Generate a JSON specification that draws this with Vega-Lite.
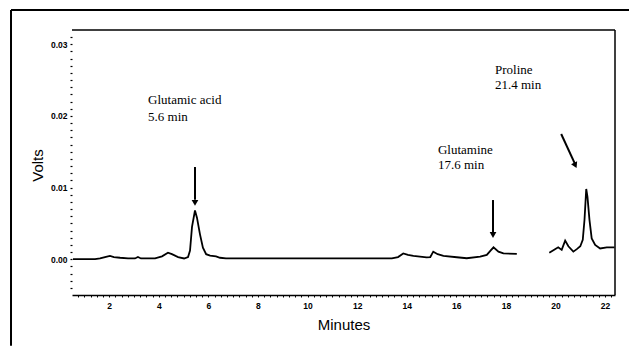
{
  "$schema": "https://vega.github.io/schema/vega-lite/v6.json",
  "width": 543,
  "height": 265,
  "autosize": {"type": "none"},
  "padding": {"left": 72, "top": 30, "right": 14, "bottom": 51},
  "background": "white",
  "config": {"view": {"stroke": null}},
  "datasets": {
    "trace": [
      {"min": 0.54, "volts": 0.0, "seg": "a"},
      {"min": 1.43, "volts": 0.0, "seg": "a"},
      {"min": 1.63, "volts": 0.0001, "seg": "a"},
      {"min": 1.83, "volts": 0.0003, "seg": "a"},
      {"min": 2.03, "volts": 0.00045, "seg": "a"},
      {"min": 2.19, "volts": 0.0003, "seg": "a"},
      {"min": 2.44, "volts": 0.0002, "seg": "a"},
      {"min": 2.76, "volts": 0.0001, "seg": "a"},
      {"min": 3.04, "volts": 0.0001, "seg": "a"},
      {"min": 3.16, "volts": 0.0003, "seg": "a"},
      {"min": 3.28, "volts": 0.0001, "seg": "a"},
      {"min": 3.85, "volts": 0.0001, "seg": "a"},
      {"min": 4.13, "volts": 0.0004, "seg": "a"},
      {"min": 4.37, "volts": 0.0009, "seg": "a"},
      {"min": 4.53, "volts": 0.0007, "seg": "a"},
      {"min": 4.78, "volts": 0.0003, "seg": "a"},
      {"min": 5.02, "volts": 0.0001, "seg": "a"},
      {"min": 5.18, "volts": 0.0003, "seg": "a"},
      {"min": 5.26, "volts": 0.0012, "seg": "a"},
      {"min": 5.34, "volts": 0.0045, "seg": "a"},
      {"min": 5.46, "volts": 0.0068, "seg": "a"},
      {"min": 5.54, "volts": 0.0058, "seg": "a"},
      {"min": 5.66, "volts": 0.0035, "seg": "a"},
      {"min": 5.78, "volts": 0.0016, "seg": "a"},
      {"min": 5.91, "volts": 0.0007, "seg": "a"},
      {"min": 6.07, "volts": 0.0005, "seg": "a"},
      {"min": 6.31, "volts": 0.0004, "seg": "a"},
      {"min": 6.47, "volts": 0.0002, "seg": "a"},
      {"min": 6.71, "volts": 0.0001, "seg": "a"},
      {"min": 10.0, "volts": 0.0001, "seg": "a"},
      {"min": 13.4, "volts": 0.0001, "seg": "a"},
      {"min": 13.65, "volts": 0.0003, "seg": "a"},
      {"min": 13.86, "volts": 0.0008, "seg": "a"},
      {"min": 14.05, "volts": 0.0006, "seg": "a"},
      {"min": 14.27, "volts": 0.00045, "seg": "a"},
      {"min": 14.8, "volts": 0.00026, "seg": "a"},
      {"min": 14.95, "volts": 0.0003, "seg": "a"},
      {"min": 15.07, "volts": 0.00105, "seg": "a"},
      {"min": 15.25, "volts": 0.0007, "seg": "a"},
      {"min": 15.48, "volts": 0.00045, "seg": "a"},
      {"min": 16.02, "volts": 0.00027, "seg": "a"},
      {"min": 16.42, "volts": 0.00013, "seg": "a"},
      {"min": 16.96, "volts": 0.00035, "seg": "a"},
      {"min": 17.23, "volts": 0.0006, "seg": "a"},
      {"min": 17.38, "volts": 0.0012, "seg": "a"},
      {"min": 17.5, "volts": 0.00166, "seg": "a"},
      {"min": 17.7, "volts": 0.00105, "seg": "a"},
      {"min": 17.9, "volts": 0.0008, "seg": "a"},
      {"min": 18.44, "volts": 0.00073, "seg": "a"},
      {"min": 19.75, "volts": 0.0009, "seg": "b"},
      {"min": 19.98, "volts": 0.0014, "seg": "b"},
      {"min": 20.11, "volts": 0.00166, "seg": "b"},
      {"min": 20.25, "volts": 0.0013, "seg": "b"},
      {"min": 20.39, "volts": 0.0026, "seg": "b"},
      {"min": 20.52, "volts": 0.0018, "seg": "b"},
      {"min": 20.72, "volts": 0.00105, "seg": "b"},
      {"min": 20.86, "volts": 0.0014, "seg": "b"},
      {"min": 21.0, "volts": 0.0018, "seg": "b"},
      {"min": 21.1, "volts": 0.0027, "seg": "b"},
      {"min": 21.17, "volts": 0.0055, "seg": "b"},
      {"min": 21.24, "volts": 0.0098, "seg": "b"},
      {"min": 21.29, "volts": 0.0087, "seg": "b"},
      {"min": 21.37, "volts": 0.0055, "seg": "b"},
      {"min": 21.46, "volts": 0.0029, "seg": "b"},
      {"min": 21.6, "volts": 0.002, "seg": "b"},
      {"min": 21.8, "volts": 0.0015, "seg": "b"},
      {"min": 22.07, "volts": 0.00166, "seg": "b"},
      {"min": 22.38, "volts": 0.00166, "seg": "b"}
    ],
    "labels": [
      {"min": 3.57, "volts": 0.0222, "text": "Glutamic acid"},
      {"min": 3.57, "volts": 0.01985, "text": "5.6 min"},
      {"min": 15.26, "volts": 0.01525, "text": "Glutamine"},
      {"min": 15.26, "volts": 0.01316, "text": "17.6 min"},
      {"min": 17.56, "volts": 0.02643, "text": "Proline"},
      {"min": 17.56, "volts": 0.02433, "text": "21.4 min"}
    ],
    "arrows": [
      {"min": 5.46, "volts": 0.01287, "min2": 5.46, "volts2": 0.0083},
      {"min": 17.48, "volts": 0.00826, "min2": 17.48, "volts2": 0.0034},
      {"min": 20.23, "volts": 0.01748, "min2": 20.8, "volts2": 0.0132}
    ],
    "heads": [
      {"min": 5.46, "volts": 0.00785},
      {"min": 17.48, "volts": 0.00338}
    ],
    "headsAngled": [
      {"min": 20.8, "volts": 0.0131}
    ],
    "box": [
      {"min": 0.5, "volts": 0.032, "min2": 22.4, "volts2": 0.032},
      {"min": 22.4, "volts": 0.032, "min2": 22.4, "volts2": -0.005}
    ],
    "frame": [
      {"min": -1.96, "volts": 0.0348, "min2": 22.97, "volts2": 0.0348},
      {"min": -1.96, "volts": 0.0348, "min2": -1.96, "volts2": -0.0121}
    ]
  },
  "layer": [
    {
      "data": {"name": "trace"},
      "mark": {"type": "line", "color": "black", "strokeWidth": 1.8, "clip": true},
      "encoding": {
        "x": {
          "field": "min", "type": "quantitative",
          "scale": {"domain": [0.5, 22.4], "nice": false, "zero": false},
          "axis": {
            "title": "Minutes",
            "titleFont": "Liberation Sans", "titleFontSize": 15, "titleFontWeight": "normal", "titleColor": "black",
            "titlePadding": 8,
            "tickCount": 500,
            "values": [0.75,1,1.25,1.5,1.75,2,2.25,2.5,2.75,3,3.25,3.5,3.75,4,4.25,4.5,4.75,5,5.25,5.5,5.75,6,6.25,6.5,6.75,7,7.25,7.5,7.75,8,8.25,8.5,8.75,9,9.25,9.5,9.75,10,10.25,10.5,10.75,11,11.25,11.5,11.75,12,12.25,12.5,12.75,13,13.25,13.5,13.75,14,14.25,14.5,14.75,15,15.25,15.5,15.75,16,16.25,16.5,16.75,17,17.25,17.5,17.75,18,18.25,18.5,18.75,19,19.25,19.5,19.75,20,20.25,20.5,20.75,21,21.25,21.5,21.75,22,22.25],
            "labelExpr": "datum.value % 2 == 0 ? format(datum.value, 'd') : ''",
            "labelOverlap": false, "labelFlush": false,
            "labelFont": "Liberation Sans", "labelFontSize": 8.5, "labelFontWeight": "bold", "labelColor": "black",
            "labelPadding": 4,
            "tickSize": 2, "tickColor": "black", "tickWidth": 1,
            "domainColor": "black", "domainWidth": 1.6,
            "grid": false
          }
        },
        "y": {
          "field": "volts", "type": "quantitative",
          "scale": {"domain": [-0.005, 0.032], "nice": false, "zero": false},
          "axis": {
            "title": "Volts",
            "titleFont": "Liberation Sans", "titleFontSize": 15, "titleFontWeight": "normal", "titleColor": "black",
            "titleX": -27, "titleY": 135,
            "tickCount": 500,
            "values": [-0.004,-0.003,-0.002,-0.001,0,0.001,0.002,0.003,0.004,0.005,0.006,0.007,0.008,0.009,0.01,0.011,0.012,0.013,0.014,0.015,0.016,0.017,0.018,0.019,0.02,0.021,0.022,0.023,0.024,0.025,0.026,0.027,0.028,0.029,0.03,0.031],
            "labelExpr": "(datum.value == 0 || datum.value == 0.01 || datum.value == 0.02 || datum.value == 0.03) ? format(datum.value, '.2f') : ''",
            "labelOverlap": false, "labelFlush": false,
            "labelFont": "Liberation Sans", "labelFontSize": 8.5, "labelFontWeight": "bold", "labelColor": "black",
            "labelPadding": 3,
            "tickSize": 2, "tickColor": "black", "tickWidth": 1.2,
            "domain": false,
            "grid": false
          }
        },
        "detail": {"field": "seg", "type": "nominal"}
      }
    },
    {
      "data": {"name": "box"},
      "mark": {"type": "rule", "color": "black", "strokeWidth": 1.5},
      "encoding": {
        "x": {"field": "min", "type": "quantitative"},
        "y": {"field": "volts", "type": "quantitative"},
        "x2": {"field": "min2"},
        "y2": {"field": "volts2"}
      }
    },
    {
      "data": {"name": "frame"},
      "mark": {"type": "rule", "color": "black", "strokeWidth": 2},
      "encoding": {
        "x": {"field": "min", "type": "quantitative"},
        "y": {"field": "volts", "type": "quantitative"},
        "x2": {"field": "min2"},
        "y2": {"field": "volts2"}
      }
    },
    {
      "data": {"name": "arrows"},
      "mark": {"type": "rule", "color": "black", "strokeWidth": 2},
      "encoding": {
        "x": {"field": "min", "type": "quantitative"},
        "y": {"field": "volts", "type": "quantitative"},
        "x2": {"field": "min2"},
        "y2": {"field": "volts2"}
      }
    },
    {
      "data": {"name": "heads"},
      "mark": {"type": "point", "shape": "triangle-down", "filled": true, "color": "black", "size": 45, "opacity": 1},
      "encoding": {
        "x": {"field": "min", "type": "quantitative"},
        "y": {"field": "volts", "type": "quantitative"}
      }
    },
    {
      "data": {"name": "headsAngled"},
      "mark": {"type": "point", "shape": "triangle-down", "filled": true, "color": "black", "size": 45, "opacity": 1, "angle": 335},
      "encoding": {
        "x": {"field": "min", "type": "quantitative"},
        "y": {"field": "volts", "type": "quantitative"}
      }
    },
    {
      "data": {"name": "labels"},
      "mark": {"type": "text", "align": "left", "baseline": "middle", "font": "Liberation Serif", "fontSize": 13, "color": "black"},
      "encoding": {
        "x": {"field": "min", "type": "quantitative"},
        "y": {"field": "volts", "type": "quantitative"},
        "text": {"field": "text"}
      }
    }
  ]
}
